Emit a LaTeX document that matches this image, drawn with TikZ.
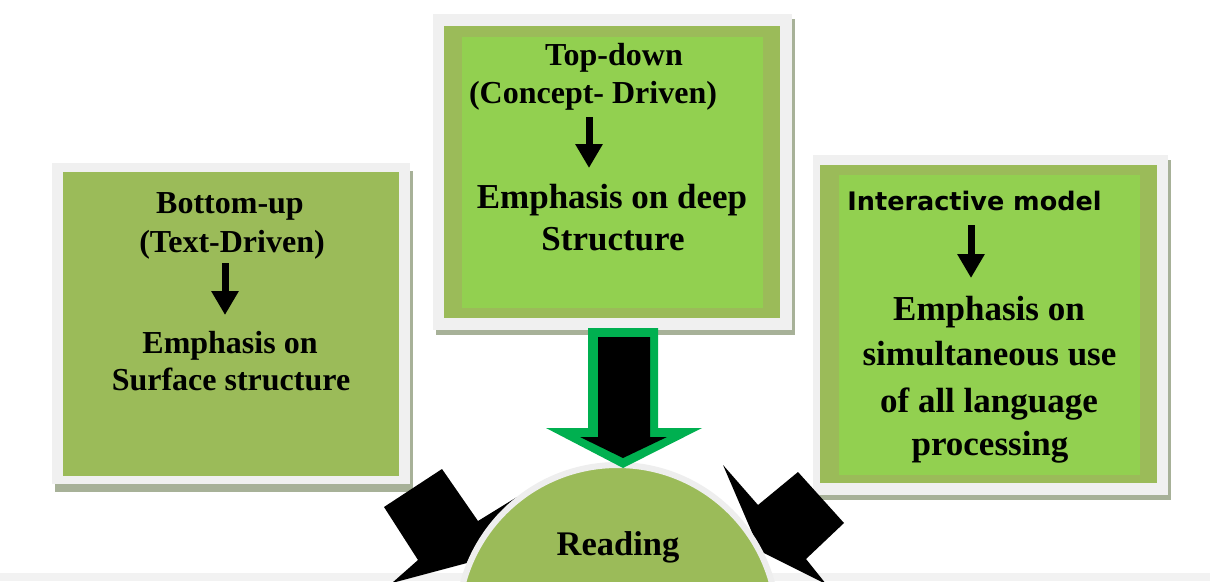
\documentclass[tikz,border=0pt]{standalone}
\usepackage{fontspec}
\setmainfont{Liberation Serif}
\newfontfamily\sansf{DejaVu Sans}
\usetikzlibrary{arrows.meta}
\definecolor{olive}{HTML}{9BBB59}
\definecolor{lgreen}{HTML}{92D050}
\definecolor{framegray}{HTML}{F0F0F0}
\definecolor{shadowgray}{HTML}{A7B198}
\definecolor{agreen}{HTML}{00B050}
\definecolor{ringgray}{HTML}{EEEEEE}
\begin{document}
\begin{tikzpicture}[x=1pt,y=-1pt,
  txt/.style={inner sep=0pt, anchor=base, font=\bfseries\fontsize{32}{38}\selectfont},
  bigtxt/.style={inner sep=0pt, anchor=base, font=\bfseries\fontsize{35}{42}\selectfont},
  smallarr/.style={line width=7pt, -{Triangle[width=26pt,length=24pt]}},
  blockarr/.style={fill=black},
]
\useasboundingbox (0,0) rectangle (1210,581);
\clip (0,0) rectangle (1210,581);
\fill[white] (0,0) rectangle (1210,581);
\fill[black!5] (0,573) rectangle (1210,581);

% left box
\fill[shadowgray] (55,171) rectangle (413,492);
\fill[framegray] (52,163) rectangle (410,484);
\fill[olive] (63,172) rectangle (399,476);
% top box
\fill[shadowgray] (436,19) rectangle (795,335);
\fill[framegray] (433,14) rectangle (792,330);
\fill[olive] (444,26) rectangle (780,318);
\fill[lgreen] (462,37) rectangle (763,308);
% right box
\fill[shadowgray] (816,160) rectangle (1171,500);
\fill[framegray] (813,155) rectangle (1168,495);
\fill[olive] (820,165) rectangle (1157,483);
\fill[lgreen] (839,175) rectangle (1140,475);

% left box texts
\node[txt] (l1) at (230,213) {Bottom-up};
\node[txt] (l2) at (232,252) {(Text-Driven)};
\node[txt] (l3) at (230,353) {Emphasis on};
\node[txt] (l4) at (231,390) {Surface structure};
\coordinate (la1) at (225,263);
\coordinate (la2) at (225,315);
\draw[smallarr] (la1) -- (la2);

% top box texts
\node[txt] (t1) at (614,65) {Top-down};
\node[txt] (t2) at (593,103) {(Concept- Driven)};
\node[bigtxt] (t3) at (612,208) {Emphasis on deep};
\node[bigtxt] (t4) at (613,250) {Structure};
\coordinate (ta1) at (589,117);
\coordinate (ta2) at (589,168);
\draw[smallarr] (ta1) -- (ta2);

% right box texts
\node[inner sep=0pt, anchor=base, font=\sansf\bfseries\fontsize{25.5}{30}\selectfont] (r0) at (974.5,210) {Interactive model};
\node[bigtxt] (r1) at (989,320) {Emphasis on};
\node[bigtxt] (r2) at (989.5,365) {simultaneous use};
\node[bigtxt] (r3) at (989,412) {of all language};
\node[bigtxt] (r4) at (990,455) {processing};
\coordinate (ra1) at (971,225);
\coordinate (ra2) at (971,278);
\draw[smallarr] (ra1) -- (ra2);

% side block arrows
\fill[blockarr] (384,507) -- (442,469) -- (478,521) -- (517,497) -- (467,563) -- (392,583) -- (418,560) -- cycle;
\fill[blockarr] (723,465) -- (758,505) -- (798,472) -- (844,523) -- (806,559) -- (826,584) -- (760,551) -- cycle;

% reading circle
\node[circle, fill=olive, draw=ringgray, line width=6pt, minimum size=320pt, inner sep=0pt] (rd) at (617.5,625) {};
\node[inner sep=0pt, anchor=base, font=\bfseries\fontsize{34.5}{40}\selectfont] (rdt) at (618,555) {Reading};

% top block arrow: green outline, black inside
\fill[agreen] (588,328) -- (658,328) -- (658,428) -- (702,428) -- (623,468) -- (546,428) -- (588,428) -- cycle;
\fill[black] (598,337) -- (650,337) -- (650,437) -- (667,437) -- (623,458) -- (580,437) -- (598,437) -- cycle;
\end{tikzpicture}
\end{document}
